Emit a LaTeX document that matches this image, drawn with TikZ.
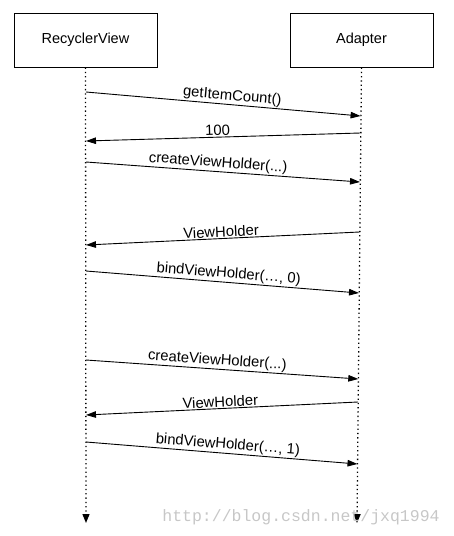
\documentclass[tikz,border=0pt]{standalone}
\usepackage{fontspec}
\setmainfont{Liberation Sans}
\newfontfamily\wmfont{Liberation Mono}
\usetikzlibrary{arrows.meta,calc}
\begin{document}
\begin{tikzpicture}[x=1pt,y=-1pt,
  actor/.style={draw,line width=0.9pt,minimum width=143pt,minimum height=54pt,inner sep=0pt,font=\fontsize{14.5}{16}\selectfont},
  lifeline/.style={line width=1.3pt,dash pattern=on 1.3pt off 3pt,-{Triangle[length=9pt,width=7pt]}},
  msg/.style={line width=0.9pt,-{Triangle[length=10pt,width=6.5pt]}},
  lbl/.style={sloped,above,inner sep=1pt,font=\fontsize{14.8}{16}\selectfont}]
\useasboundingbox (0,0) rectangle (453,536);
\node[actor] (rv) at (85.5,40) {RecyclerView};
\node[actor] (ad) at (361.5,40) {Adapter};
\coordinate (rvend) at (86,523);
\coordinate (adend) at (357,523);
\draw[lifeline] (rv.south) -- (rvend);
\draw[lifeline] (ad.south) -- (adend);
% message end points
\coordinate (l1) at (86,92);   \coordinate (r1) at (360.6,116);
\coordinate (r2) at (360.4,133); \coordinate (l2) at (86,141);
\coordinate (l3) at (86,162);  \coordinate (r3) at (360,182);
\coordinate (r4) at (359.5,232); \coordinate (l4) at (86,245);
\coordinate (l5) at (86,271);  \coordinate (r5) at (359,293);
\coordinate (l6) at (86,360);  \coordinate (r6) at (358.3,379);
\coordinate (r7) at (358,402); \coordinate (l7) at (86,415);
\coordinate (l8) at (86,442);  \coordinate (r8) at (357.5,464);
\draw[msg] (l1) -- node[lbl,pos=0.53] {getItemCount()} (r1);
\draw[msg] (r2) -- node[lbl,pos=0.52] {100} (l2);
\draw[msg] (l3) -- node[lbl,pos=0.48] {createViewHolder(...)} (r3);
\draw[msg] (r4) -- node[lbl,pos=0.505] {ViewHolder} (l4);
\draw[msg] (l5) -- node[lbl,pos=0.52] {bindViewHolder(…, 0)} (r5);
\draw[msg] (l6) -- node[lbl,pos=0.48] {createViewHolder(...)} (r6);
\draw[msg] (r7) -- node[lbl,pos=0.505] {ViewHolder} (l7);
\draw[msg] (l8) -- node[lbl,pos=0.52] {bindViewHolder(…, 1)} (r8);
\node[text=black!22,font=\wmfont\fontsize{16.5}{18}\selectfont,anchor=center] (wm) at (301,517) {http://blog.csdn.net/jxq1994};
\end{tikzpicture}
\end{document}
